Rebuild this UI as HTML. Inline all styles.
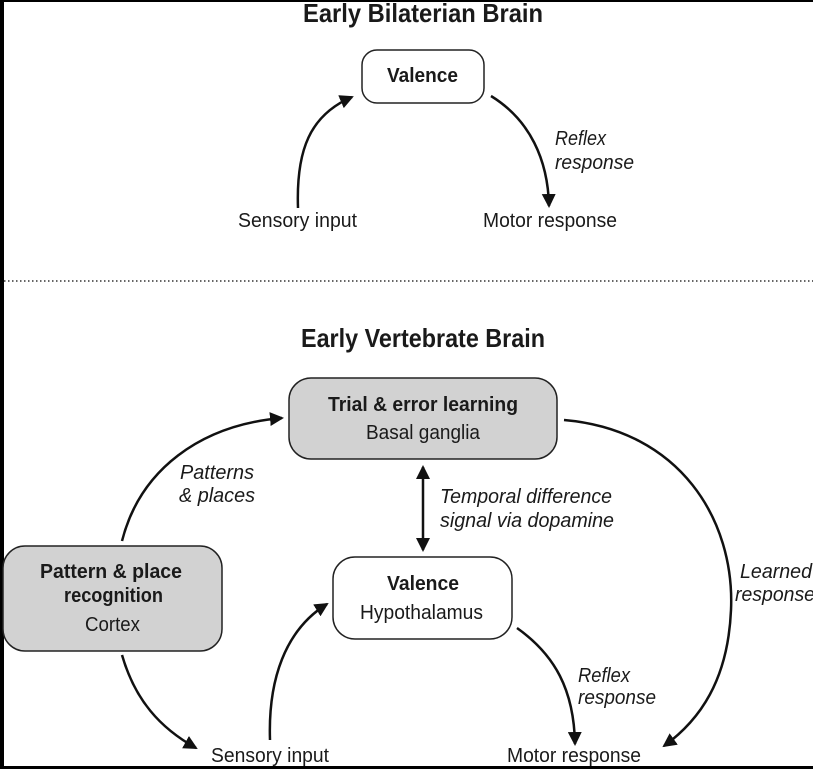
<!DOCTYPE html>
<html><head><style>
html,body{margin:0;padding:0;background:#fff;}
svg{display:block;}
text{font-family:"Liberation Sans",sans-serif;fill:#1a1a1a;}
.b{font-weight:bold;}
.i{font-style:italic;}
</style></head><body>
<svg width="813" height="769" viewBox="0 0 813 769" xmlns="http://www.w3.org/2000/svg">
<defs>
<marker id="a" markerWidth="14" markerHeight="14" refX="12" refY="7" orient="auto" markerUnits="userSpaceOnUse">
<path d="M0,0 L14,7 L0,14 z" fill="#111"/>
</marker>
<marker id="s" markerWidth="14" markerHeight="14" refX="2" refY="7" orient="auto" markerUnits="userSpaceOnUse">
<path d="M14,0 L0,7 L14,14 z" fill="#111"/>
</marker>
</defs>
<rect x="0" y="0" width="813" height="769" fill="#fff"/>
<rect x="0" y="0" width="4" height="769" fill="#000"/>
<rect x="0" y="0" width="813" height="2" fill="#000"/>
<rect x="0" y="766" width="813" height="3" fill="#000"/>

<text x="303" y="22" font-size="26" class="b" textLength="240" lengthAdjust="spacingAndGlyphs">Early Bilaterian Brain</text>
<rect x="362" y="50" width="122" height="53" rx="15" fill="#fff" stroke="#222" stroke-width="1.5"/>
<text x="387" y="82" font-size="20" class="b" textLength="71" lengthAdjust="spacingAndGlyphs">Valence</text>
<path d="M298,208 C296,150 310,115 352,97" fill="none" stroke="#111" stroke-width="2.5" marker-end="url(#a)"/>
<path d="M491,96 C530,120 548,160 549,206" fill="none" stroke="#111" stroke-width="2.5" marker-end="url(#a)"/>
<text x="555" y="145" font-size="20" class="i" textLength="51" lengthAdjust="spacingAndGlyphs">Reflex</text>
<text x="555" y="169" font-size="20" class="i" textLength="79" lengthAdjust="spacingAndGlyphs">response</text>
<text x="238" y="227" font-size="20" textLength="119" lengthAdjust="spacingAndGlyphs">Sensory input</text>
<text x="483" y="227" font-size="20" textLength="134" lengthAdjust="spacingAndGlyphs">Motor response</text>
<line x1="4" y1="281" x2="813" y2="281" stroke="#333" stroke-width="1.5" stroke-dasharray="1.5,2.5"/>

<text x="301" y="347" font-size="26" class="b" textLength="244" lengthAdjust="spacingAndGlyphs">Early Vertebrate Brain</text>
<rect x="289" y="378" width="268" height="81" rx="22" fill="#d2d2d2" stroke="#222" stroke-width="1.5"/>
<text x="328" y="411" font-size="20" class="b" textLength="190" lengthAdjust="spacingAndGlyphs">Trial &amp; error learning</text>
<text x="366" y="439" font-size="20" textLength="114" lengthAdjust="spacingAndGlyphs">Basal ganglia</text>

<rect x="3" y="546" width="219" height="105" rx="22" fill="#d2d2d2" stroke="#222" stroke-width="1.5"/>
<text x="40" y="578" font-size="20" class="b" textLength="142" lengthAdjust="spacingAndGlyphs">Pattern &amp; place</text>
<text x="64" y="602" font-size="20" class="b" textLength="99" lengthAdjust="spacingAndGlyphs">recognition</text>
<text x="85" y="631" font-size="20" textLength="55" lengthAdjust="spacingAndGlyphs">Cortex</text>

<rect x="333" y="557" width="179" height="82" rx="22" fill="#fff" stroke="#222" stroke-width="1.5"/>
<text x="387" y="590" font-size="20" class="b" textLength="72" lengthAdjust="spacingAndGlyphs">Valence</text>
<text x="360" y="619" font-size="20" textLength="123" lengthAdjust="spacingAndGlyphs">Hypothalamus</text>

<line x1="423" y1="467" x2="423" y2="550" stroke="#111" stroke-width="2.5" marker-start="url(#s)" marker-end="url(#a)"/>
<text x="440" y="503" font-size="20" class="i" textLength="172" lengthAdjust="spacingAndGlyphs">Temporal difference</text>
<text x="440" y="527" font-size="20" class="i" textLength="174" lengthAdjust="spacingAndGlyphs">signal via dopamine</text>
<text x="180" y="479" font-size="20" class="i" textLength="74" lengthAdjust="spacingAndGlyphs">Patterns</text>
<text x="179" y="502" font-size="20" class="i" textLength="76" lengthAdjust="spacingAndGlyphs">&amp; places</text>

<path d="M122,541 C140,470 200,425 282,418" fill="none" stroke="#111" stroke-width="2.5" marker-end="url(#a)"/>
<path d="M564,420 C680,430 735,520 731,610 C728,680 700,720 664,746" fill="none" stroke="#111" stroke-width="2.5" marker-end="url(#a)"/>
<text x="740" y="578" font-size="20" class="i" textLength="72" lengthAdjust="spacingAndGlyphs">Learned</text>
<text x="735" y="601" font-size="20" class="i" textLength="80" lengthAdjust="spacingAndGlyphs">response</text>

<path d="M122,655 C135,700 160,728 196,748" fill="none" stroke="#111" stroke-width="2.5" marker-end="url(#a)"/>
<path d="M270,740 C268,680 285,630 327,604" fill="none" stroke="#111" stroke-width="2.5" marker-end="url(#a)"/>
<path d="M517,628 C555,655 574,690 575,744" fill="none" stroke="#111" stroke-width="2.5" marker-end="url(#a)"/>
<text x="578" y="682" font-size="20" class="i" textLength="52" lengthAdjust="spacingAndGlyphs">Reflex</text>
<text x="578" y="704" font-size="20" class="i" textLength="78" lengthAdjust="spacingAndGlyphs">response</text>

<text x="211" y="762" font-size="20" textLength="118" lengthAdjust="spacingAndGlyphs">Sensory input</text>
<text x="507" y="762" font-size="20" textLength="134" lengthAdjust="spacingAndGlyphs">Motor response</text>
</svg>
</body></html>
